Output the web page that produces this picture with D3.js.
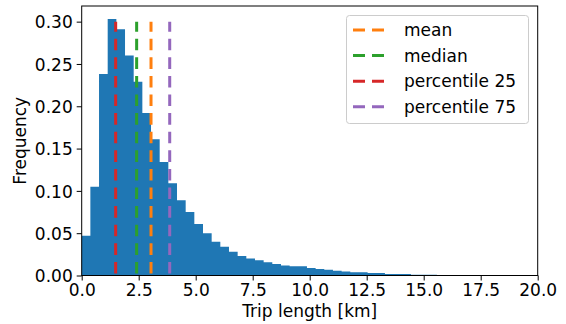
<!DOCTYPE html>
<html>
<head>
<meta charset="utf-8">
<script src="https://cdn.jsdelivr.net/npm/d3@7/dist/d3.min.js"></script>
<style>
  html, body { margin: 0; padding: 0; background: #fff; }
  svg { display: block; }
  text { font-family: "DejaVu Sans", sans-serif; fill: #000; }
</style>
</head>
<body>
<svg id="chart" width="566" height="324"></svg>
<script>
// Histogram of trip lengths (density), bin width 0.38 km starting at 0 km
const binWidthKm = 0.38;
const frequencies = [
  0.047, 0.105, 0.238, 0.303, 0.291, 0.260, 0.229, 0.192, 0.161, 0.134,
  0.109, 0.089, 0.075, 0.061, 0.050, 0.040, 0.034, 0.028, 0.023, 0.020,
  0.018, 0.0156, 0.0136, 0.0118, 0.0109, 0.0108, 0.0089, 0.0077, 0.0068, 0.0057,
  0.0046, 0.0039, 0.0038, 0.0030, 0.0029, 0.0019, 0.0018, 0.0017, 0.0009, 0.0008,
  0.0008, 0.0007, 0.0007, 0.0006, 0.0006, 0.0005, 0.0005, 0.0004
];

// Summary statistics drawn as vertical dashed lines (km)
const statLabels = ["mean", "median", "percentile 25", "percentile 75"];
const statValues = [3.04, 2.41, 1.49, 3.86];
const statColors = ["#ff7f0e", "#2ca02c", "#d62728", "#9467bd"];

const xTicks = [0, 2.5, 5, 7.5, 10, 12.5, 15, 17.5, 20];
const yTicks = [0, 0.05, 0.10, 0.15, 0.20, 0.25, 0.30];
const xDomain = [0, 20];
const yDomain = [0, 0.3185];
const statLineTop = 0.30;

const bins = frequencies.map((f, i) => ({ x0: i * binWidthKm, x1: (i + 1) * binWidthKm, f }));

const plot = { left: 81.7, right: 537.7, top: 6, bottom: 275.5 };
const svg = d3.select("#chart");

const x = d3.scaleLinear().domain(xDomain).range([plot.left, plot.right]);
const y = d3.scaleLinear().domain(yDomain).range([plot.bottom, plot.top]);

// Bars as one stepped outline so adjacent bins join without seams
const stepPoints = bins.map(d => ({ x: d.x0, f: d.f }))
  .concat([{ x: bins[bins.length - 1].x1, f: bins[bins.length - 1].f }]);
const area = d3.area()
  .x(d => x(d.x))
  .y0(y(0))
  .y1(d => y(d.f))
  .curve(d3.curveStepAfter);
svg.append("path")
  .datum(stepPoints)
  .attr("d", area)
  .attr("fill", "#1f77b4");

// Dashed statistic lines, drawn from the baseline upward
svg.append("g")
  .selectAll("line")
  .data(statValues)
  .join("line")
  .attr("x1", d => x(d))
  .attr("x2", d => x(d))
  .attr("y1", y(0))
  .attr("y2", y(statLineTop))
  .attr("stroke", (d, i) => statColors[i])
  .attr("stroke-width", 3)
  .attr("stroke-dasharray", "11.6,7")
  .attr("stroke-dashoffset", -2);

// Axes
const xAxis = d3.axisBottom(x).tickValues(xTicks).tickFormat(d3.format(".1f")).tickSizeOuter(0).tickSize(5).tickPadding(3);
const yAxis = d3.axisLeft(y).tickValues(yTicks).tickFormat(d3.format(".2f")).tickSizeOuter(0).tickSize(5).tickPadding(4);

const gx = svg.append("g").attr("transform", `translate(0,${plot.bottom})`).call(xAxis);
const gy = svg.append("g").attr("transform", `translate(${plot.left},0)`).call(yAxis);
[gx, gy].forEach(g => {
  g.select(".domain").remove();
  g.selectAll(".tick line").attr("stroke", "#000").attr("stroke-width", 1);
  g.selectAll(".tick text").attr("font-size", 17).attr("font-family", "DejaVu Sans, sans-serif").attr("fill", "#000");
});
gy.selectAll(".tick text").attr("dy", "0.36em");

// Frame
svg.append("rect")
  .attr("x", plot.left)
  .attr("y", plot.top)
  .attr("width", plot.right - plot.left)
  .attr("height", plot.bottom - plot.top)
  .attr("fill", "none")
  .attr("stroke", "#000")
  .attr("stroke-width", 1);

// Axis titles
svg.append("text")
  .attr("x", (plot.left + plot.right) / 2)
  .attr("y", 317)
  .attr("text-anchor", "middle")
  .attr("font-size", 17)
  .text("Trip length [km]");

svg.append("text")
  .attr("transform", `translate(21,${(plot.top + plot.bottom) / 2}) rotate(-90)`)
  .attr("text-anchor", "middle")
  .attr("dy", "0.32em")
  .attr("font-size", 17)
  .text("Frequency");

// Legend
const legend = svg.append("g");
legend.append("rect")
  .attr("x", 346.5).attr("y", 15.5)
  .attr("width", 182).attr("height", 108)
  .attr("rx", 3).attr("ry", 3)
  .attr("fill", "#fff").attr("fill-opacity", 0.8)
  .attr("stroke", "#cccccc").attr("stroke-width", 1);

const rows = legend.selectAll("g.row")
  .data(statLabels)
  .join("g")
  .attr("class", "row")
  .attr("transform", (d, i) => `translate(0,${30 + i * 25.6})`);

rows.append("line")
  .attr("x1", 353).attr("x2", 385)
  .attr("y1", 0).attr("y2", 0)
  .attr("stroke", (d, i) => statColors[i])
  .attr("stroke-width", 3)
  .attr("stroke-dasharray", "12,7");

rows.append("text")
  .attr("x", 404)
  .attr("dy", "0.36em")
  .attr("font-size", 17)
  .text(d => d);
</script>
</body>
</html>
